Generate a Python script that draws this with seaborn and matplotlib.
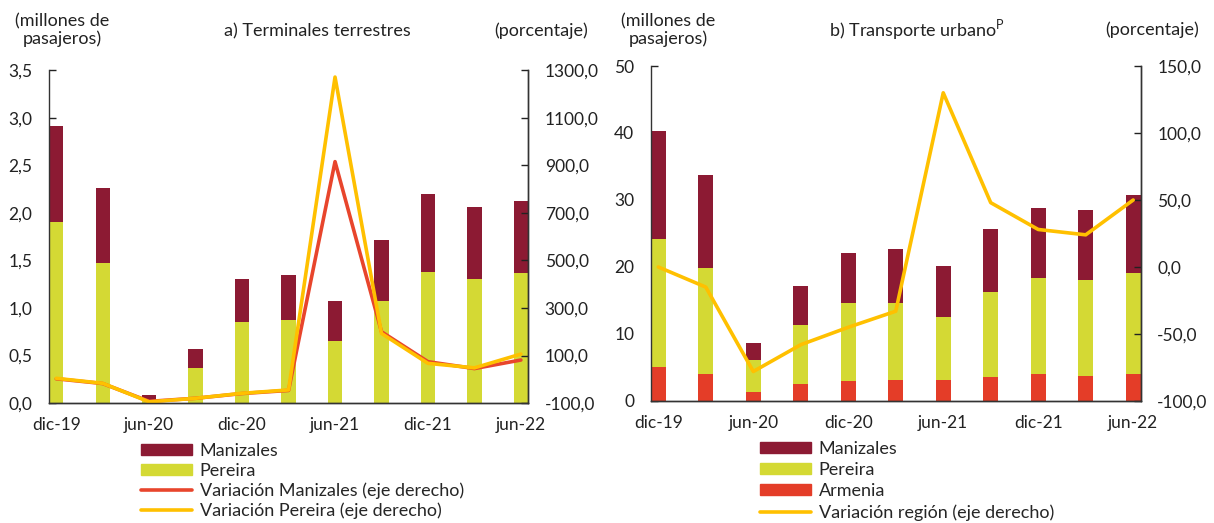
import numpy as np
import pandas as pd
import matplotlib
matplotlib.use("Agg")
import matplotlib.pyplot as plt
import seaborn as sns
from matplotlib.patches import Patch
from matplotlib.lines import Line2D
from matplotlib.ticker import FuncFormatter

# ---- data ----
periods = ["dic-19", "mar-20", "jun-20", "sep-20", "dic-20", "mar-21",
           "jun-21", "sep-21", "dic-21", "mar-22", "jun-22"]

# a) Terminales terrestres (millones de pasajeros)
term_pereira = [1.91, 1.47, 0.02, 0.37, 0.85, 0.87, 0.65, 1.07, 1.38, 1.31, 1.37]
term_manizales = [1.01, 0.79, 0.06, 0.20, 0.46, 0.48, 0.42, 0.65, 0.82, 0.75, 0.76]
var_manizales = [2, -18, -93, -80, -60, -47, 916, 200, 74, 45, 81]
var_pereira = [4, -17, -95, -80, -59, -45, 1272, 193, 67, 48, 106]

# b) Transporte urbano (millones de pasajeros)
urb_armenia = [5.1, 4.1, 1.3, 2.5, 3.0, 3.2, 3.2, 3.6, 4.0, 3.8, 4.0]
urb_pereira = [19.1, 15.7, 4.75, 8.9, 11.6, 11.4, 9.4, 12.6, 14.3, 14.3, 15.1]
urb_manizales = [16.1, 13.9, 2.65, 5.7, 7.5, 8.1, 7.6, 9.4, 10.5, 10.4, 11.6]
var_region = [0, -15, -78, -58, -45, -33, 130, 48, 28, 24, 50]

# axis ticks
ticks_a_left = [0, 0.5, 1.0, 1.5, 2.0, 2.5, 3.0, 3.5]
ticks_a_right = [-100, 100, 300, 500, 700, 900, 1100, 1300]
ticks_b_left = [0, 10, 20, 30, 40, 50]
ticks_b_right = [-100, -50, 0, 50, 100, 150]

# ---- style ----
sns.set_style("white")
plt.rcParams["font.family"] = ["Lato", "DejaVu Sans"]
plt.rcParams["mathtext.fontset"] = "custom"
plt.rcParams["mathtext.rm"] = "Lato"

C_MAN = "#8C1A33"
C_PER = "#D4D934"
C_ARM = "#E43D28"
C_LMAN = "#E8452C"
C_LPER = "#FFC000"
FS = 13
TFS = 12.5
W = 0.31

pos = np.arange(len(periods))
df_a = pd.DataFrame({"pos": pos, "pereira": term_pereira, "manizales": term_manizales,
                     "var_m": var_manizales, "var_p": var_pereira})
df_a["total"] = df_a["pereira"] + df_a["manizales"]

df_b = pd.DataFrame({"pos": pos, "armenia": urb_armenia, "pereira": urb_pereira,
                     "manizales": urb_manizales, "var": var_region})
df_b["pt"] = df_b["armenia"] + df_b["pereira"]
df_b["total"] = df_b["pt"] + df_b["manizales"]

comma1 = FuncFormatter(lambda v, p: f"{v:.1f}".replace(".", ","))
comma0 = FuncFormatter(lambda v, p: f"{v:.0f}")


def bars(ax, df, col, color):
    sns.barplot(data=df, x="pos", y=col, native_scale=True, width=W, color=color,
                saturation=1, linewidth=0, errorbar=None, ax=ax)


def style_axes(ax, ax2):
    ax.set_xlim(-W / 2, len(periods) - 1 + W / 2)
    ax.set_xticks(pos[::2])
    ax.set_xticklabels(periods[::2])
    ax.set_xticks(pos[::2] - W / 2, minor=True)
    ax.tick_params(axis="x", which="major", length=0, pad=10, labelsize=TFS, colors="#222222")
    ax.tick_params(axis="x", which="minor", direction="in", length=5, width=1, color="#333333")
    ax.tick_params(axis="y", direction="in", length=5, width=1, labelsize=TFS, pad=12,
                   left=True, colors="#222222")
    ax2.tick_params(axis="y", direction="in", length=5, width=1, labelsize=TFS, pad=12,
                    right=True, colors="#222222")
    ax.set_xlabel("")
    ax.set_ylabel("")
    ax2.set_xlabel("")
    ax2.set_ylabel("")
    for a in (ax, ax2):
        a.spines["top"].set_visible(False)
        for s in ("left", "right", "bottom"):
            a.spines[s].set_color("#333333")
            a.spines[s].set_linewidth(1)
    ax2.spines["left"].set_visible(False)
    ax.grid(False)
    ax2.grid(False)


fig = plt.figure(figsize=(12.14, 5.23), dpi=100)

# ---- panel a ----
ax = fig.add_axes([0.0404, 0.2294, 0.3946, 0.636])
bars(ax, df_a, "total", C_MAN)
bars(ax, df_a, "pereira", C_PER)
ax2 = ax.twinx()
sns.lineplot(data=df_a, x="pos", y="var_m", color=C_LMAN, linewidth=2.6, ax=ax2)
sns.lineplot(data=df_a, x="pos", y="var_p", color=C_LPER, linewidth=2.6, ax=ax2)
ax.set_ylim(0, 3.5)
ax.set_yticks(ticks_a_left)
ax.yaxis.set_major_formatter(comma1)
ax2.set_ylim(-100, 1300)
ax2.set_yticks(ticks_a_right)
ax2.yaxis.set_major_formatter(comma1)
style_axes(ax, ax2)

# ---- panel b ----
bx = fig.add_axes([0.5362, 0.2333, 0.4033, 0.6405])
bars(bx, df_b, "total", C_MAN)
bars(bx, df_b, "pt", C_PER)
bars(bx, df_b, "armenia", C_ARM)
bx2 = bx.twinx()
sns.lineplot(data=df_b, x="pos", y="var", color=C_LPER, linewidth=2.6, ax=bx2)
bx.set_ylim(0, 50)
bx.set_yticks(ticks_b_left)
bx.yaxis.set_major_formatter(comma0)
bx2.set_ylim(-100, 150)
bx2.set_yticks(ticks_b_right)
bx2.yaxis.set_major_formatter(comma1)
style_axes(bx, bx2)

# ---- titles and axis notes ----
tc = "#222222"
fig.text(62 / 1214, 1 - 30 / 523, "(millones de\npasajeros)", ha="center", va="center",
         fontsize=FS, color=tc, linespacing=1.05)
fig.text(317 / 1214, 1 - 31 / 523, "a) Terminales terrestres", ha="center", va="center",
         fontsize=FS, color=tc)
fig.text(541 / 1214, 1 - 31 / 523, "(porcentaje)", ha="center", va="center",
         fontsize=FS, color=tc)
fig.text(668 / 1214, 1 - 30 / 523, "(millones de\npasajeros)", ha="center", va="center",
         fontsize=FS, color=tc, linespacing=1.05)
fig.text(917 / 1214, 1 - 30 / 523, r"b) Transporte urbano$^{\mathrm{P}}$", ha="center",
         va="center", fontsize=FS, color=tc)
fig.text(1152 / 1214, 1 - 30 / 523, "(porcentaje)", ha="center", va="center",
         fontsize=FS, color=tc)

# ---- legends ----
leg_kw = dict(loc="upper left", frameon=False, fontsize=FS, borderpad=0,
              borderaxespad=0, handlelength=2.85, handleheight=0.55,
              handletextpad=0.4)
h_a = [Patch(color=C_MAN), Patch(color=C_PER),
       Line2D([], [], color=C_LMAN, lw=2.6), Line2D([], [], color=C_LPER, lw=2.6)]
l_a = ["Manizales", "Pereira", "Variación Manizales (eje derecho)",
       "Variación Pereira (eje derecho)"]
fig.legend(h_a, l_a, bbox_to_anchor=(141 / 1214, 1 - 443 / 523), labelspacing=0.2,
           **leg_kw)

h_b = [Patch(color=C_MAN), Patch(color=C_PER), Patch(color=C_ARM),
       Line2D([], [], color=C_LPER, lw=2.6)]
l_b = ["Manizales", "Pereira", "Armenia", "Variación región (eje derecho)"]
fig.legend(h_b, l_b, bbox_to_anchor=(760 / 1214, 1 - 441 / 523), labelspacing=0.28,
           **leg_kw)

fig.savefig("out.png", dpi=100)
